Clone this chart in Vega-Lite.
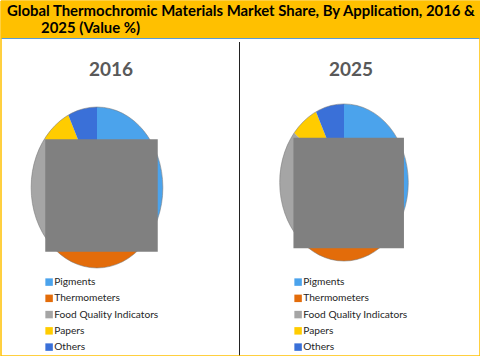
{
"$schema":"https://vega.github.io/schema/vega-lite/v6.json",
"width":480,"height":356,"padding":0,
"autosize":{"type":"fit","contains":"padding"},
"background":"white",
"view":{"stroke":null},
"datasets":{
"shares":[
{"year":"2016","application":"Pigments","share":38,"ord":1},
{"year":"2016","application":"Thermometers","share":22,"ord":2},
{"year":"2016","application":"Food Quality Indicators","share":27,"ord":3},
{"year":"2016","application":"Papers","share":7,"ord":4},
{"year":"2016","application":"Others","share":6,"ord":5},
{"year":"2025","application":"Pigments","share":38,"ord":1},
{"year":"2025","application":"Thermometers","share":23.5,"ord":2},
{"year":"2025","application":"Food Quality Indicators","share":26,"ord":3},
{"year":"2025","application":"Papers","share":6.5,"ord":4},
{"year":"2025","application":"Others","share":6,"ord":5}],
"years":[{"year":"2016"},{"year":"2025"}],
"head":[{"line":"one","text":"Global Thermochromic Materials Market Share, By Application, 2016 &"},{"line":"two","text":"2025 (Value %)"}]
},
"layer":[
{"data":{"name":"years"},"mark":{"type":"rect","fill":"#FFC000"},
 "encoding":{"x":{"datum":0,"scale":{"domain":[0,1],"range":[0,480]},"axis":null},"x2":{"datum":1},
 "y":{"datum":0,"scale":{"domain":[0,1],"range":[0,38]},"axis":null},"y2":{"datum":1}}},
{"data":{"name":"years"},"mark":{"type":"rule","stroke":"#5B9BD5","strokeWidth":1},
 "encoding":{"x":{"datum":0,"scale":{"domain":[0,1],"range":[0,480]},"axis":null},"x2":{"datum":1},
 "y":{"datum":0,"scale":{"domain":[0,1],"range":[37.5,37.5]},"axis":null}}},
{"data":{"name":"years"},"mark":{"type":"rule","stroke":"#222222","strokeWidth":1},
 "encoding":{"x":{"datum":0,"scale":{"domain":[0,1],"range":[238.5,238.5]},"axis":null},
 "y":{"datum":0,"scale":{"domain":[0,1],"range":[41,356]},"axis":null},"y2":{"datum":1}}},
{"data":{"name":"years"},"mark":{"type":"rect","fill":null,"stroke":"#FFC000","strokeWidth":1},
 "encoding":{"x":{"datum":0,"scale":{"domain":[0,1],"range":[0,479]},"axis":null},"x2":{"datum":1},
 "y":{"datum":0,"scale":{"domain":[0,1],"range":[0,355]},"axis":null},"y2":{"datum":1}}},
{"data":{"name":"head"},"mark":{"type":"text","font":"Lato","fontWeight":"bold","fontSize":14.9,"align":"left","baseline":"middle","fill":"#000000"},
 "encoding":{"text":{"field":"text"},
 "x":{"field":"line","type":"nominal","scale":{"domain":["one","two"],"range":[6,40],"padding":0},"axis":null},
 "y":{"field":"line","type":"nominal","scale":{"domain":["one","two"],"range":[11,28],"padding":0},"axis":null}}},
{"data":{"name":"years"},"mark":{"type":"text","font":"Lato","fontWeight":"bold","fontSize":19,"align":"center","baseline":"middle","fill":"#595959"},
 "encoding":{"text":{"field":"year"},
 "x":{"field":"year","type":"nominal","scale":{"domain":["2016","2025"],"range":[110,350],"padding":0},"axis":null},
 "y":{"field":"year","type":"nominal","scale":{"domain":["2016","2025"],"range":[69,69],"padding":0},"axis":null}}},
{"data":{"name":"shares"},"transform":[{"filter":"datum.year==='2016'"}],"mark":{"type":"arc","outerRadius":81},
 "encoding":{"theta":{"field":"share","type":"quantitative","stack":true},"order":{"field":"ord"},
 "x":{"field":"year","type":"nominal","scale":{"domain":["2016"],"range":[96,96],"padding":0},"axis":null},
 "y":{"field":"year","type":"nominal","scale":{"domain":["2016"],"range":[186.5,186.5],"padding":0},"axis":null},
 "color":{"field":"application","type":"nominal","scale":{"domain":["Pigments","Thermometers","Food Quality Indicators","Papers","Others"],"range":["#4BA3EC","#E36C0A","#A5A5A5","#FFCC00","#3A70D8"]},
 "legend":{"orient":"none","legendX":43,"legendY":276,"title":null,"symbolType":"square","symbolSize":56,"labelFont":"Lato","labelFontSize":10.2,"labelColor":"#262626","rowPadding":5.25,"labelOffset":0,"padding":0,"labelLimit":200}}}},
{"data":{"name":"shares"},"transform":[{"filter":"datum.year==='2025'"}],"mark":{"type":"arc","outerRadius":79},
 "encoding":{"theta":{"field":"share","type":"quantitative","stack":true},"order":{"field":"ord"},
 "x":{"field":"year","type":"nominal","scale":{"domain":["2025"],"range":[343,343],"padding":0},"axis":null},
 "y":{"field":"year","type":"nominal","scale":{"domain":["2025"],"range":[181.5,181.5],"padding":0},"axis":null},
 "color":{"field":"application","type":"nominal","scale":{"domain":["Pigments","Thermometers","Food Quality Indicators","Papers","Others"],"range":["#4BA3EC","#E36C0A","#A5A5A5","#FFCC00","#3A70D8"]},
 "legend":{"orient":"none","legendX":292,"legendY":276,"title":null,"symbolType":"square","symbolSize":56,"labelFont":"Lato","labelFontSize":10.2,"labelColor":"#262626","rowPadding":5.25,"labelOffset":0,"padding":0,"labelLimit":200}}}},
{"data":{"name":"years"},"mark":{"type":"point","filled":true,"fill":"white","stroke":null,"opacity":1,"shape":"M-1 -1 H1 V1 H-1 Z M0 -0.958 A0.784 0.958 0 0 0 0 0.958 A0.784 0.958 0 0 0 0 -0.958 Z"},
 "encoding":{
 "x":{"field":"year","type":"nominal","scale":{"domain":["2016","2025"],"range":[96,343],"padding":0},"axis":null},
 "y":{"field":"year","type":"nominal","scale":{"domain":["2016","2025"],"range":[186.5,181.5],"padding":0},"axis":null},
 "size":{"field":"year","type":"nominal","scale":{"domain":["2016","2025"],"range":[28224,26896]},"legend":null}}},
{"data":{"name":"years"},"mark":{"type":"point","filled":false,"stroke":"#7A7A7A","strokeWidth":1,"opacity":0.55,"shape":"M0 -0.958 A0.784 0.958 0 0 1 0 0.958 A0.784 0.958 0 0 1 0 -0.958 Z"},
 "encoding":{
 "x":{"field":"year","type":"nominal","scale":{"domain":["2016","2025"],"range":[96,343],"padding":0},"axis":null},
 "y":{"field":"year","type":"nominal","scale":{"domain":["2016","2025"],"range":[186.5,181.5],"padding":0},"axis":null},
 "size":{"field":"year","type":"nominal","scale":{"domain":["2016","2025"],"range":[28224,26896]},"legend":null}}},
{"data":{"name":"years"},"mark":{"type":"point","filled":true,"fill":"#808080","stroke":null,"opacity":1,"shape":"square"},
 "encoding":{
 "x":{"field":"year","type":"nominal","scale":{"domain":["2016","2025"],"range":[100.5,347.7],"padding":0},"axis":null},
 "y":{"field":"year","type":"nominal","scale":{"domain":["2016","2025"],"range":[194.5,192],"padding":0},"axis":null},
 "size":{"field":"year","type":"nominal","scale":{"domain":["2016","2025"],"range":[12656,12210]},"legend":null}}}
],
"resolve":{"scale":{"x":"independent","y":"independent","color":"independent","size":"independent","theta":"independent"}}
}
